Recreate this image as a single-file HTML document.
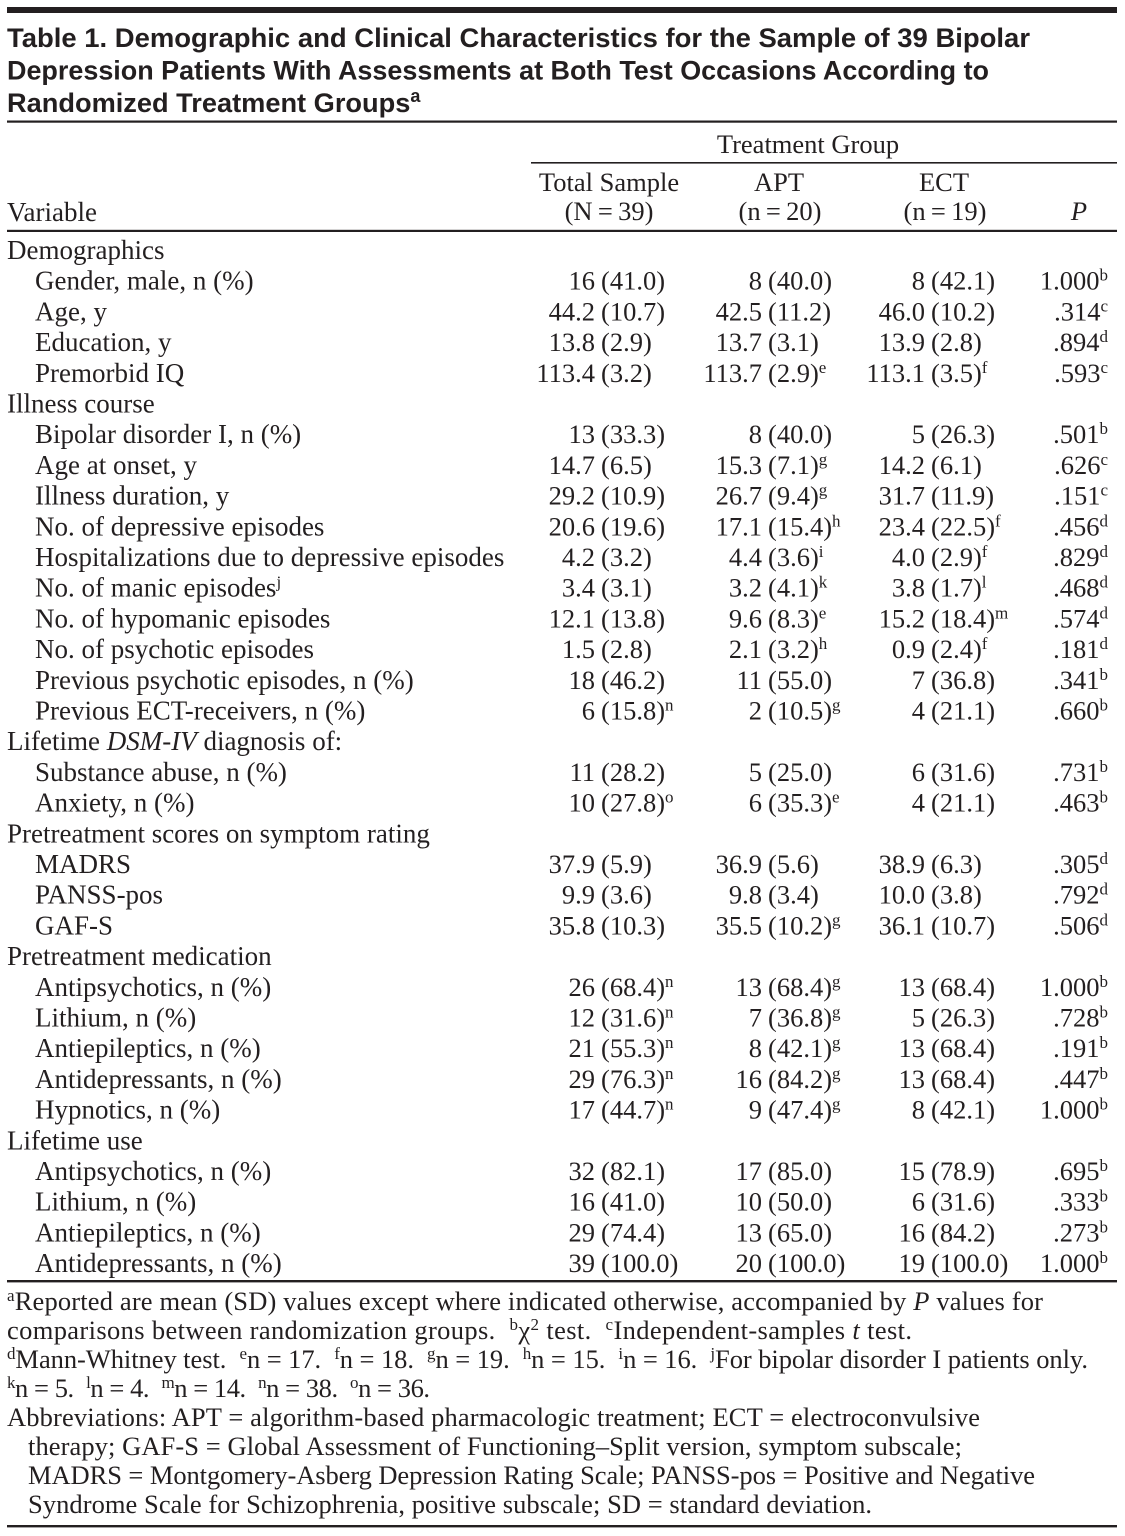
<!DOCTYPE html>
<html>
<head>
<meta charset="utf-8">
<style>
html,body{margin:0;padding:0;background:#fff;}
svg{display:block;}
text{font-family:"Liberation Serif",serif;font-size:26.5px;fill:#231f20;}
.l{font-size:27px;}
.t{font-family:"Liberation Sans",sans-serif;font-weight:bold;font-size:27.2px;}
.ts{font-family:"Liberation Sans",sans-serif;font-weight:bold;font-size:18px;}
.sp{font-size:17px;}
.fn{font-size:26.5px;}
.it{font-style:italic;}
</style>
</head>
<body>
<svg width="1125" height="1536" viewBox="0 0 1125 1536" xmlns="http://www.w3.org/2000/svg">
<rect x="0" y="0" width="1125" height="1536" fill="#fff"/>
<!-- rules -->
<rect x="7" y="7" width="1110" height="6" fill="#231f20"/>
<rect x="7" y="120.5" width="1110" height="2.2" fill="#231f20"/>
<rect x="531" y="162" width="586" height="1.6" fill="#231f20"/>
<rect x="7" y="229.8" width="1110" height="2.2" fill="#231f20"/>
<rect x="7" y="1280" width="1110" height="2.4" fill="#231f20"/>
<rect x="7" y="1525" width="1110" height="2.4" fill="#231f20"/>

<!-- title -->
<text class="t" x="7" y="47" textLength="1023" lengthAdjust="spacingAndGlyphs">Table 1. Demographic and Clinical Characteristics for the Sample of 39 Bipolar</text>
<text class="t" x="7" y="79.5" textLength="982" lengthAdjust="spacingAndGlyphs">Depression Patients With Assessments at Both Test Occasions According to</text>
<text class="t" x="7" y="112">Randomized Treatment Groups<tspan class="ts" dy="-10">a</tspan></text>

<!-- header -->
<text x="808" y="153" text-anchor="middle">Treatment Group</text>
<text x="609" y="191" text-anchor="middle">Total Sample</text>
<text x="609" y="220" text-anchor="middle">(N&#8201;=&#8201;39)</text>
<text x="779" y="191" text-anchor="middle">APT</text>
<text x="780" y="220" text-anchor="middle">(n&#8201;=&#8201;20)</text>
<text x="944" y="191" text-anchor="middle">ECT</text>
<text x="945" y="220" text-anchor="middle">(n&#8201;=&#8201;19)</text>
<text x="1079" y="220" text-anchor="middle" class="it">P</text>
<text class="l" x="7" y="221">Variable</text>

<!-- body -->
<text class="l" x="7" y="259">Demographics</text>

<text class="l" x="35" y="289.7">Gender, male, n (%)</text>
<text x="595" y="289.7" text-anchor="end">16</text><text x="601" y="289.7">(41.0)</text>
<text x="762" y="289.7" text-anchor="end">8</text><text x="768" y="289.7">(40.0)</text>
<text x="925" y="289.7" text-anchor="end">8</text><text x="931" y="289.7">(42.1)</text>
<text x="1108" y="289.7" text-anchor="end">1.000<tspan class="sp" dy="-9">b</tspan></text>

<text class="l" x="35" y="320.4">Age, y</text>
<text x="595" y="320.4" text-anchor="end">44.2</text><text x="601" y="320.4">(10.7)</text>
<text x="762" y="320.4" text-anchor="end">42.5</text><text x="768" y="320.4">(11.2)</text>
<text x="925" y="320.4" text-anchor="end">46.0</text><text x="931" y="320.4">(10.2)</text>
<text x="1108" y="320.4" text-anchor="end">.314<tspan class="sp" dy="-9">c</tspan></text>

<text class="l" x="35" y="351.1">Education, y</text>
<text x="595" y="351.1" text-anchor="end">13.8</text><text x="601" y="351.1">(2.9)</text>
<text x="762" y="351.1" text-anchor="end">13.7</text><text x="768" y="351.1">(3.1)</text>
<text x="925" y="351.1" text-anchor="end">13.9</text><text x="931" y="351.1">(2.8)</text>
<text x="1108" y="351.1" text-anchor="end">.894<tspan class="sp" dy="-9">d</tspan></text>

<text class="l" x="35" y="381.8">Premorbid IQ</text>
<text x="595" y="381.8" text-anchor="end">113.4</text><text x="601" y="381.8">(3.2)</text>
<text x="762" y="381.8" text-anchor="end">113.7</text><text x="768" y="381.8">(2.9)<tspan class="sp" dy="-9">e</tspan></text>
<text x="925" y="381.8" text-anchor="end">113.1</text><text x="931" y="381.8">(3.5)<tspan class="sp" dy="-9">f</tspan></text>
<text x="1108" y="381.8" text-anchor="end">.593<tspan class="sp" dy="-9">c</tspan></text>

<text class="l" x="7" y="412.5">Illness course</text>

<text class="l" x="35" y="443.2">Bipolar disorder I, n (%)</text>
<text x="595" y="443.2" text-anchor="end">13</text><text x="601" y="443.2">(33.3)</text>
<text x="762" y="443.2" text-anchor="end">8</text><text x="768" y="443.2">(40.0)</text>
<text x="925" y="443.2" text-anchor="end">5</text><text x="931" y="443.2">(26.3)</text>
<text x="1108" y="443.2" text-anchor="end">.501<tspan class="sp" dy="-9">b</tspan></text>

<text class="l" x="35" y="473.9">Age at onset, y</text>
<text x="595" y="473.9" text-anchor="end">14.7</text><text x="601" y="473.9">(6.5)</text>
<text x="762" y="473.9" text-anchor="end">15.3</text><text x="768" y="473.9">(7.1)<tspan class="sp" dy="-9">g</tspan></text>
<text x="925" y="473.9" text-anchor="end">14.2</text><text x="931" y="473.9">(6.1)</text>
<text x="1108" y="473.9" text-anchor="end">.626<tspan class="sp" dy="-9">c</tspan></text>

<text class="l" x="35" y="504.6">Illness duration, y</text>
<text x="595" y="504.6" text-anchor="end">29.2</text><text x="601" y="504.6">(10.9)</text>
<text x="762" y="504.6" text-anchor="end">26.7</text><text x="768" y="504.6">(9.4)<tspan class="sp" dy="-9">g</tspan></text>
<text x="925" y="504.6" text-anchor="end">31.7</text><text x="931" y="504.6">(11.9)</text>
<text x="1108" y="504.6" text-anchor="end">.151<tspan class="sp" dy="-9">c</tspan></text>

<text class="l" x="35" y="535.3">No. of depressive episodes</text>
<text x="595" y="535.3" text-anchor="end">20.6</text><text x="601" y="535.3">(19.6)</text>
<text x="762" y="535.3" text-anchor="end">17.1</text><text x="768" y="535.3">(15.4)<tspan class="sp" dy="-9">h</tspan></text>
<text x="925" y="535.3" text-anchor="end">23.4</text><text x="931" y="535.3">(22.5)<tspan class="sp" dy="-9">f</tspan></text>
<text x="1108" y="535.3" text-anchor="end">.456<tspan class="sp" dy="-9">d</tspan></text>

<text class="l" x="35" y="566">Hospitalizations due to depressive episodes</text>
<text x="595" y="566" text-anchor="end">4.2</text><text x="601" y="566">(3.2)</text>
<text x="762" y="566" text-anchor="end">4.4</text><text x="768" y="566">(3.6)<tspan class="sp" dy="-9">i</tspan></text>
<text x="925" y="566" text-anchor="end">4.0</text><text x="931" y="566">(2.9)<tspan class="sp" dy="-9">f</tspan></text>
<text x="1108" y="566" text-anchor="end">.829<tspan class="sp" dy="-9">d</tspan></text>

<text class="l" x="35" y="596.7">No. of manic episodes<tspan class="sp" dy="-9">j</tspan></text>
<text x="595" y="596.7" text-anchor="end">3.4</text><text x="601" y="596.7">(3.1)</text>
<text x="762" y="596.7" text-anchor="end">3.2</text><text x="768" y="596.7">(4.1)<tspan class="sp" dy="-9">k</tspan></text>
<text x="925" y="596.7" text-anchor="end">3.8</text><text x="931" y="596.7">(1.7)<tspan class="sp" dy="-9">l</tspan></text>
<text x="1108" y="596.7" text-anchor="end">.468<tspan class="sp" dy="-9">d</tspan></text>

<text class="l" x="35" y="627.4">No. of hypomanic episodes</text>
<text x="595" y="627.4" text-anchor="end">12.1</text><text x="601" y="627.4">(13.8)</text>
<text x="762" y="627.4" text-anchor="end">9.6</text><text x="768" y="627.4">(8.3)<tspan class="sp" dy="-9">e</tspan></text>
<text x="925" y="627.4" text-anchor="end">15.2</text><text x="931" y="627.4">(18.4)<tspan class="sp" dy="-9">m</tspan></text>
<text x="1108" y="627.4" text-anchor="end">.574<tspan class="sp" dy="-9">d</tspan></text>

<text class="l" x="35" y="658.1">No. of psychotic episodes</text>
<text x="595" y="658.1" text-anchor="end">1.5</text><text x="601" y="658.1">(2.8)</text>
<text x="762" y="658.1" text-anchor="end">2.1</text><text x="768" y="658.1">(3.2)<tspan class="sp" dy="-9">h</tspan></text>
<text x="925" y="658.1" text-anchor="end">0.9</text><text x="931" y="658.1">(2.4)<tspan class="sp" dy="-9">f</tspan></text>
<text x="1108" y="658.1" text-anchor="end">.181<tspan class="sp" dy="-9">d</tspan></text>

<text class="l" x="35" y="688.8">Previous psychotic episodes, n (%)</text>
<text x="595" y="688.8" text-anchor="end">18</text><text x="601" y="688.8">(46.2)</text>
<text x="762" y="688.8" text-anchor="end">11</text><text x="768" y="688.8">(55.0)</text>
<text x="925" y="688.8" text-anchor="end">7</text><text x="931" y="688.8">(36.8)</text>
<text x="1108" y="688.8" text-anchor="end">.341<tspan class="sp" dy="-9">b</tspan></text>

<text class="l" x="35" y="719.5">Previous ECT-receivers, n (%)</text>
<text x="595" y="719.5" text-anchor="end">6</text><text x="601" y="719.5">(15.8)<tspan class="sp" dy="-9">n</tspan></text>
<text x="762" y="719.5" text-anchor="end">2</text><text x="768" y="719.5">(10.5)<tspan class="sp" dy="-9">g</tspan></text>
<text x="925" y="719.5" text-anchor="end">4</text><text x="931" y="719.5">(21.1)</text>
<text x="1108" y="719.5" text-anchor="end">.660<tspan class="sp" dy="-9">b</tspan></text>

<text class="l" x="7" y="750.2">Lifetime <tspan class="it">DSM-IV</tspan> diagnosis of:</text>

<text class="l" x="35" y="780.9">Substance abuse, n (%)</text>
<text x="595" y="780.9" text-anchor="end">11</text><text x="601" y="780.9">(28.2)</text>
<text x="762" y="780.9" text-anchor="end">5</text><text x="768" y="780.9">(25.0)</text>
<text x="925" y="780.9" text-anchor="end">6</text><text x="931" y="780.9">(31.6)</text>
<text x="1108" y="780.9" text-anchor="end">.731<tspan class="sp" dy="-9">b</tspan></text>

<text class="l" x="35" y="811.6">Anxiety, n (%)</text>
<text x="595" y="811.6" text-anchor="end">10</text><text x="601" y="811.6">(27.8)<tspan class="sp" dy="-9">o</tspan></text>
<text x="762" y="811.6" text-anchor="end">6</text><text x="768" y="811.6">(35.3)<tspan class="sp" dy="-9">e</tspan></text>
<text x="925" y="811.6" text-anchor="end">4</text><text x="931" y="811.6">(21.1)</text>
<text x="1108" y="811.6" text-anchor="end">.463<tspan class="sp" dy="-9">b</tspan></text>

<text class="l" x="7" y="842.3">Pretreatment scores on symptom rating</text>

<text class="l" x="35" y="873">MADRS</text>
<text x="595" y="873" text-anchor="end">37.9</text><text x="601" y="873">(5.9)</text>
<text x="762" y="873" text-anchor="end">36.9</text><text x="768" y="873">(5.6)</text>
<text x="925" y="873" text-anchor="end">38.9</text><text x="931" y="873">(6.3)</text>
<text x="1108" y="873" text-anchor="end">.305<tspan class="sp" dy="-9">d</tspan></text>

<text class="l" x="35" y="903.7">PANSS-pos</text>
<text x="595" y="903.7" text-anchor="end">9.9</text><text x="601" y="903.7">(3.6)</text>
<text x="762" y="903.7" text-anchor="end">9.8</text><text x="768" y="903.7">(3.4)</text>
<text x="925" y="903.7" text-anchor="end">10.0</text><text x="931" y="903.7">(3.8)</text>
<text x="1108" y="903.7" text-anchor="end">.792<tspan class="sp" dy="-9">d</tspan></text>

<text class="l" x="35" y="934.4">GAF-S</text>
<text x="595" y="934.4" text-anchor="end">35.8</text><text x="601" y="934.4">(10.3)</text>
<text x="762" y="934.4" text-anchor="end">35.5</text><text x="768" y="934.4">(10.2)<tspan class="sp" dy="-9">g</tspan></text>
<text x="925" y="934.4" text-anchor="end">36.1</text><text x="931" y="934.4">(10.7)</text>
<text x="1108" y="934.4" text-anchor="end">.506<tspan class="sp" dy="-9">d</tspan></text>

<text class="l" x="7" y="965.1">Pretreatment medication</text>

<text class="l" x="35" y="995.8">Antipsychotics, n (%)</text>
<text x="595" y="995.8" text-anchor="end">26</text><text x="601" y="995.8">(68.4)<tspan class="sp" dy="-9">n</tspan></text>
<text x="762" y="995.8" text-anchor="end">13</text><text x="768" y="995.8">(68.4)<tspan class="sp" dy="-9">g</tspan></text>
<text x="925" y="995.8" text-anchor="end">13</text><text x="931" y="995.8">(68.4)</text>
<text x="1108" y="995.8" text-anchor="end">1.000<tspan class="sp" dy="-9">b</tspan></text>

<text class="l" x="35" y="1026.5">Lithium, n (%)</text>
<text x="595" y="1026.5" text-anchor="end">12</text><text x="601" y="1026.5">(31.6)<tspan class="sp" dy="-9">n</tspan></text>
<text x="762" y="1026.5" text-anchor="end">7</text><text x="768" y="1026.5">(36.8)<tspan class="sp" dy="-9">g</tspan></text>
<text x="925" y="1026.5" text-anchor="end">5</text><text x="931" y="1026.5">(26.3)</text>
<text x="1108" y="1026.5" text-anchor="end">.728<tspan class="sp" dy="-9">b</tspan></text>

<text class="l" x="35" y="1057.2">Antiepileptics, n (%)</text>
<text x="595" y="1057.2" text-anchor="end">21</text><text x="601" y="1057.2">(55.3)<tspan class="sp" dy="-9">n</tspan></text>
<text x="762" y="1057.2" text-anchor="end">8</text><text x="768" y="1057.2">(42.1)<tspan class="sp" dy="-9">g</tspan></text>
<text x="925" y="1057.2" text-anchor="end">13</text><text x="931" y="1057.2">(68.4)</text>
<text x="1108" y="1057.2" text-anchor="end">.191<tspan class="sp" dy="-9">b</tspan></text>

<text class="l" x="35" y="1087.9">Antidepressants, n (%)</text>
<text x="595" y="1087.9" text-anchor="end">29</text><text x="601" y="1087.9">(76.3)<tspan class="sp" dy="-9">n</tspan></text>
<text x="762" y="1087.9" text-anchor="end">16</text><text x="768" y="1087.9">(84.2)<tspan class="sp" dy="-9">g</tspan></text>
<text x="925" y="1087.9" text-anchor="end">13</text><text x="931" y="1087.9">(68.4)</text>
<text x="1108" y="1087.9" text-anchor="end">.447<tspan class="sp" dy="-9">b</tspan></text>

<text class="l" x="35" y="1118.6">Hypnotics, n (%)</text>
<text x="595" y="1118.6" text-anchor="end">17</text><text x="601" y="1118.6">(44.7)<tspan class="sp" dy="-9">n</tspan></text>
<text x="762" y="1118.6" text-anchor="end">9</text><text x="768" y="1118.6">(47.4)<tspan class="sp" dy="-9">g</tspan></text>
<text x="925" y="1118.6" text-anchor="end">8</text><text x="931" y="1118.6">(42.1)</text>
<text x="1108" y="1118.6" text-anchor="end">1.000<tspan class="sp" dy="-9">b</tspan></text>

<text class="l" x="7" y="1149.3">Lifetime use</text>

<text class="l" x="35" y="1180">Antipsychotics, n (%)</text>
<text x="595" y="1180" text-anchor="end">32</text><text x="601" y="1180">(82.1)</text>
<text x="762" y="1180" text-anchor="end">17</text><text x="768" y="1180">(85.0)</text>
<text x="925" y="1180" text-anchor="end">15</text><text x="931" y="1180">(78.9)</text>
<text x="1108" y="1180" text-anchor="end">.695<tspan class="sp" dy="-9">b</tspan></text>

<text class="l" x="35" y="1210.7">Lithium, n (%)</text>
<text x="595" y="1210.7" text-anchor="end">16</text><text x="601" y="1210.7">(41.0)</text>
<text x="762" y="1210.7" text-anchor="end">10</text><text x="768" y="1210.7">(50.0)</text>
<text x="925" y="1210.7" text-anchor="end">6</text><text x="931" y="1210.7">(31.6)</text>
<text x="1108" y="1210.7" text-anchor="end">.333<tspan class="sp" dy="-9">b</tspan></text>

<text class="l" x="35" y="1241.4">Antiepileptics, n (%)</text>
<text x="595" y="1241.4" text-anchor="end">29</text><text x="601" y="1241.4">(74.4)</text>
<text x="762" y="1241.4" text-anchor="end">13</text><text x="768" y="1241.4">(65.0)</text>
<text x="925" y="1241.4" text-anchor="end">16</text><text x="931" y="1241.4">(84.2)</text>
<text x="1108" y="1241.4" text-anchor="end">.273<tspan class="sp" dy="-9">b</tspan></text>

<text class="l" x="35" y="1272.1">Antidepressants, n (%)</text>
<text x="595" y="1272.1" text-anchor="end">39</text><text x="601" y="1272.1">(100.0)</text>
<text x="762" y="1272.1" text-anchor="end">20</text><text x="768" y="1272.1">(100.0)</text>
<text x="925" y="1272.1" text-anchor="end">19</text><text x="931" y="1272.1">(100.0)</text>
<text x="1108" y="1272.1" text-anchor="end">1.000<tspan class="sp" dy="-9">b</tspan></text>

<!-- footnotes -->
<text class="fn" x="7" y="1310" textLength="1036" xml:space="preserve"><tspan class="sp" dy="-9">a</tspan><tspan dy="9">Reported are mean (SD) values except where indicated otherwise, accompanied by </tspan><tspan class="it">P</tspan><tspan> values for</tspan></text>
<text class="fn" x="7" y="1339" textLength="905" xml:space="preserve">comparisons between randomization groups.  <tspan class="sp" dy="-9">b</tspan><tspan dy="9">χ</tspan><tspan class="sp" dy="-9">2</tspan><tspan dy="9"> test.  </tspan><tspan class="sp" dy="-9">c</tspan><tspan dy="9">Independent-samples </tspan><tspan class="it">t</tspan><tspan> test.</tspan></text>
<text class="fn" x="7" y="1368" textLength="1081" xml:space="preserve"><tspan class="sp" dy="-9">d</tspan><tspan dy="9">Mann-Whitney test.  </tspan><tspan class="sp" dy="-9">e</tspan><tspan dy="9">n = 17.  </tspan><tspan class="sp" dy="-9">f</tspan><tspan dy="9">n = 18.  </tspan><tspan class="sp" dy="-9">g</tspan><tspan dy="9">n = 19.  </tspan><tspan class="sp" dy="-9">h</tspan><tspan dy="9">n = 15.  </tspan><tspan class="sp" dy="-9">i</tspan><tspan dy="9">n = 16.  </tspan><tspan class="sp" dy="-9">j</tspan><tspan dy="9">For bipolar disorder I patients only.</tspan></text>
<text class="fn" x="7" y="1397" textLength="423" xml:space="preserve"><tspan class="sp" dy="-9">k</tspan><tspan dy="9">n = 5.  </tspan><tspan class="sp" dy="-9">l</tspan><tspan dy="9">n = 4.  </tspan><tspan class="sp" dy="-9">m</tspan><tspan dy="9">n = 14.  </tspan><tspan class="sp" dy="-9">n</tspan><tspan dy="9">n = 38.  </tspan><tspan class="sp" dy="-9">o</tspan><tspan dy="9">n = 36.</tspan></text>
<text class="fn" x="7" y="1426" textLength="973">Abbreviations: APT = algorithm-based pharmacologic treatment; ECT = electroconvulsive</text>
<text class="fn" x="28" y="1455" textLength="934">therapy; GAF-S = Global Assessment of Functioning–Split version, symptom subscale;</text>
<text class="fn" x="28" y="1484" textLength="1007">MADRS = Montgomery-Asberg Depression Rating Scale; PANSS-pos = Positive and Negative</text>
<text class="fn" x="28" y="1513" textLength="844">Syndrome Scale for Schizophrenia, positive subscale; SD = standard deviation.</text>
</svg>
</body>
</html>
